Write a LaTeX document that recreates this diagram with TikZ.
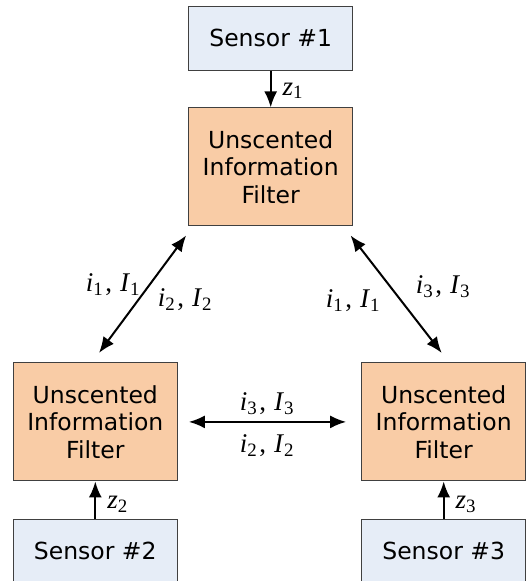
\documentclass[tikz,border=0pt]{standalone}
\usepackage{fontspec}
\setmainfont{DejaVu Sans}
\newfontfamily\symfont{Liberation Serif}
\usetikzlibrary{arrows.meta,positioning,calc}

\definecolor{sensorblue}{RGB}{230,237,247}
\definecolor{filterpeach}{RGB}{249,204,166}

% estimate pair i_k, I_k
\newcommand{\infopair}[1]{\textit{i}\textsubscript{#1}\hspace{2pt},\hspace{8pt}\textit{I}\textsubscript{#1}}
\newcommand{\meas}[1]{\textit{z}\textsubscript{#1}}

\begin{document}
\begin{tikzpicture}[x=1pt, y=-1pt,
            node distance=37pt,
            box/.style={draw=black!75, line width=1.1pt, minimum width=164pt, inner sep=0pt,
                align=center, font=\fontsize{23.5}{27.5}\selectfont}, % common box look
            sensor/.style={box, fill=sensorblue, minimum height=64pt},
            filter/.style={box, fill=filterpeach, minimum height=118pt},
            link/.style={line width=2pt, -{Latex[length=16pt,width=13pt]}},
            both/.style={line width=2pt, {Latex[length=16pt,width=13pt]}-{Latex[length=16pt,width=13pt]}},
            lbl/.style={font=\symfont\fontsize{27}{30}\selectfont, inner sep=1pt},
        ]
        \useasboundingbox (0,0) rectangle (527,581);

        % the three filters
        \node[filter] (uif1) at (270.7,166.9) {Unscented\\Information\\Filter};
        \node[filter] (uif2) at (95.3,421.9) {Unscented\\Information\\Filter};
        \node[filter] (uif3) at (443.7,421.9) {Unscented\\Information\\Filter};

        % one sensor per filter
        \node[sensor, above=36.7pt of uif1] (s1) {Sensor \#1};
        \node[sensor, below=37.3pt of uif2] (s2) {Sensor \#2};
        \node[sensor, below=37.3pt of uif3] (s3) {Sensor \#3};

        % measurements
        \draw[link] (s1) -- node[lbl, right=10pt, pos=0.55] (z1) {\meas{1}} (uif1);
        \draw[link] (s2) -- node[lbl, right=10pt, pos=0.38] (z2) {\meas{2}} (uif2);
        \draw[link] (s3) -- node[lbl, right=10pt, pos=0.38] (z3) {\meas{3}} (uif3);

        % information exchange
        \draw[both] ($(uif1.south west)+(-2,9)$) -- ($(uif2.north)+(3.7,-9.4)$);
        \draw[both] ($(uif1.south east)+(-2.7,9)$) -- ($(uif3.north)+(-2,-9.4)$);
        \draw[both, shorten <=11pt, shorten >=15pt] (uif2.east) -- (uif3.west);

        \node[lbl] (a1) at (113,285) {\infopair{1}};
        \node[lbl] (a2) at (185,300) {\infopair{2}};
        \node[lbl] (b1) at (353,301) {\infopair{1}};
        \node[lbl] (b3) at (443,287) {\infopair{3}};
        \node[lbl] (c3) at (267,404) {\infopair{3}};
        \node[lbl] (c2) at (267,446) {\infopair{2}};
    \end{tikzpicture}
\end{document}
